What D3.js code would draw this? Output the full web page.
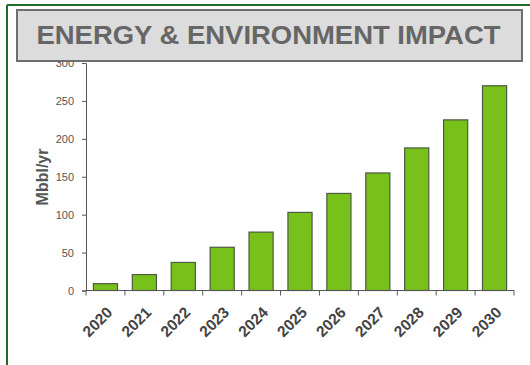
<!DOCTYPE html>
<html><head><meta charset="utf-8">
<script src="https://cdn.jsdelivr.net/npm/d3@7"></script>
<style>body{margin:0;background:#fff}svg{display:block}</style>
</head><body><svg id="c" width="530" height="365"></svg>
<script>
const categories = ["2020","2021","2022","2023","2024","2025","2026","2027","2028","2029","2030"];
const values = [9, 21, 37, 57, 77, 103, 128, 155, 188, 225, 270];
const yTicks = [0, 50, 100, 150, 200, 250, 300];
const title = "ENERGY & ENVIRONMENT IMPACT";
const yLabel = "Mbbl/yr";

const svg = d3.select("#c");
svg.append("line").attr("x1",7).attr("x2",530).attr("y1",5).attr("y2",5).attr("stroke","#1f6a2c").attr("stroke-width",2);
svg.append("line").attr("x1",7).attr("x2",7).attr("y1",5).attr("y2",365).attr("stroke","#1f6a2c").attr("stroke-width",2);

const x = d3.scaleBand().domain(categories).range([86, 514]).paddingInner(0.38).paddingOuter(0.19);
const y = d3.scaleLinear().domain([0, 300]).range([290.5, 63]);

const g = svg.append("g");
g.selectAll("rect.bar").data(values).join("rect").attr("class","bar")
  .attr("x",(d,i)=>x(categories[i])).attr("width",x.bandwidth())
  .attr("y",d=>y(d)).attr("height",d=>y(0)-y(d))
  .attr("fill","#77c11a").attr("stroke","#4d5a44").attr("stroke-width",1.2);

const ya = g.append("g").attr("transform","translate(86,0)")
  .call(d3.axisLeft(y).tickValues(yTicks).tickSize(4).tickPadding(8));
ya.select(".domain").attr("stroke","#555");
ya.selectAll(".tick line").attr("stroke","#555");
ya.selectAll("text").attr("fill","#555").style("font-family","Arial, 'Liberation Sans', sans-serif").style("font-size","11px");

const xs = d3.scalePoint().domain(d3.range(categories.length+1)).range([86,514]);
const xa = g.append("g").attr("transform","translate(0,290.5)");
xa.append("line").attr("x1",86).attr("x2",514).attr("stroke","#555");
xa.selectAll("line.t").data(d3.range(categories.length+1)).join("line").attr("class","t")
  .attr("x1",d=>xs(d)).attr("x2",d=>xs(d)).attr("y1",0).attr("y2",5).attr("stroke","#555");
xa.selectAll("text").data(categories).join("text")
  .attr("transform",d=>`translate(${x(d)+x.bandwidth()/2+8},${23}) rotate(-45)`)
  .attr("text-anchor","end").attr("fill","#444")
  .style("font-family","Arial, 'Liberation Sans', sans-serif").style("font-size","15.5px").style("font-weight","bold")
  .text(d=>d);

svg.append("text").attr("transform","translate(48,177) rotate(-90)")
  .attr("text-anchor","middle").attr("fill","#555")
  .style("font-family","Arial, 'Liberation Sans', sans-serif").style("font-size","16px").style("font-weight","bold")
  .text(yLabel);

svg.append("rect").attr("x",17).attr("y",10).attr("width",505).attr("height",51)
  .attr("fill","#dcdcdc").attr("stroke","#6e6e6e").attr("stroke-width",2);
svg.append("text").attr("x",36.5).attr("y",44).attr("fill","#666")
  .attr("textLength",464).attr("lengthAdjust","spacingAndGlyphs")
  .style("font-family","Arial, 'Liberation Sans', sans-serif").style("font-size","25.5px").style("font-weight","bold")
  .text(title);
</script></body></html>
